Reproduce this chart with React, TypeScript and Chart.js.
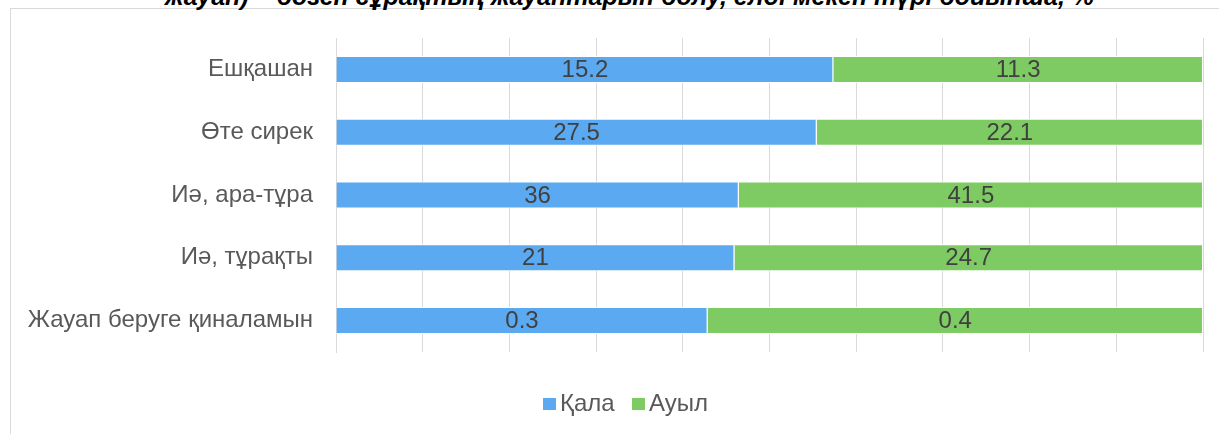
import React, { useEffect, useRef } from 'react';
import { Chart, registerables } from 'chart.js';

Chart.register(...registerables);

const categories = ['Ешқашан', 'Өте сирек', 'Иә, ара-тұра', 'Иә, тұрақты', 'Жауап беруге қиналамын'];
const cityValues = [15.2, 27.5, 36, 21, 0.3];
const villageValues = [11.3, 22.1, 41.5, 24.7, 0.4];
const seriesNames = ['Қала', 'Ауыл'];
const seriesColors = ['#5ba9f1', '#7ecb63'];
const xTicks = [0, 10, 20, 30, 40, 50, 60, 70, 80, 90, 100];
const titleText = 'жауап) – бөзен сұрақтың жауаптарын бөлу, елді мекен түрі бойынша, %';

const FONT = '"Liberation Sans", Arial, sans-serif';

// 100% stacked: each row is shown as share of its own total
const rowTotals = categories.map((_, i) => cityValues[i] + villageValues[i]);
const cityShare = cityValues.map((v, i) => (v / rowTotals[i]) * 100);
const villageShare = villageValues.map((v, i) => (v / rowTotals[i]) * 100);

const segmentLabels = {
  id: 'segmentLabels',
  afterDatasetsDraw(chart: any) {
    const ctx = chart.ctx;
    ctx.save();
    ctx.font = `24px ${FONT}`;
    ctx.fillStyle = '#404040';
    ctx.textAlign = 'center';
    ctx.textBaseline = 'middle';
    chart.data.datasets.forEach((ds: any, di: number) => {
      const meta = chart.getDatasetMeta(di);
      meta.data.forEach((el: any, i: number) => {
        const p = el.getProps(['x', 'y', 'base'], true);
        ctx.fillText(String(ds.rawValues[i]), (p.x + p.base) / 2, p.y + 1);
      });
    });
    ctx.restore();
  },
};

export default function App() {
  const canvasRef = useRef<HTMLCanvasElement | null>(null);

  useEffect(() => {
    const canvas = canvasRef.current;
    if (!canvas) return;
    const chart = new Chart(canvas, {
      type: 'bar',
      data: {
        labels: categories,
        datasets: [
          {
            label: seriesNames[0],
            data: cityShare,
            rawValues: cityValues,
            backgroundColor: seriesColors[0],
            borderColor: '#ffffff',
            borderWidth: 1,
            barPercentage: 0.43,
            categoryPercentage: 1,
          } as any,
          {
            label: seriesNames[1],
            data: villageShare,
            rawValues: villageValues,
            backgroundColor: seriesColors[1],
            borderColor: '#ffffff',
            borderWidth: 1,
            barPercentage: 0.43,
            categoryPercentage: 1,
          } as any,
        ],
      },
      options: {
        indexAxis: 'y',
        responsive: false,
        animation: false,
        layout: { padding: { top: 38, right: 16, bottom: 82, left: 0 } },
        plugins: {
          legend: { display: false },
          title: { display: false },
          tooltip: { enabled: false },
        },
        scales: {
          x: {
            stacked: true,
            min: 0,
            max: 100,
            afterBuildTicks: (scale: any) => {
              scale.ticks = xTicks.map((v) => ({ value: v }));
            },
            afterFit: (scale: any) => {
              scale.height = 0;
            },
            ticks: { display: false },
            grid: { color: '#d9d9d9', lineWidth: 1, drawTicks: false },
            border: { display: false },
          },
          y: {
            stacked: true,
            afterFit: (scale: any) => {
              scale.width = 336;
            },
            ticks: {
              autoSkip: false,
              padding: 23,
              color: '#595959',
              font: { family: FONT, size: 24 },
            },
            grid: { display: false, drawTicks: false },
            border: { display: true, color: '#d9d9d9', width: 1 },
          },
        },
      },
      plugins: [segmentLabels],
    } as any);
    return () => chart.destroy();
  }, []);

  return (
    <div
      style={{
        position: 'fixed',
        left: 0,
        top: 0,
        width: 1219,
        height: 434,
        overflow: 'hidden',
        background: '#ffffff',
        fontFamily: FONT,
      }}
    >
      <div
        style={{
          position: 'absolute',
          left: 10,
          top: 8,
          width: 1240,
          height: 460,
          border: '1px solid #d9d9d9',
          boxSizing: 'border-box',
        }}
      />
      <div
        style={{
          position: 'absolute',
          left: 165,
          top: -16,
          fontSize: 25,
          lineHeight: '25px',
          fontWeight: 'bold',
          fontStyle: 'italic',
          whiteSpace: 'nowrap',
          color: '#000000',
        }}
      >
        {titleText}
      </div>
      <canvas
        ref={canvasRef}
        width={1219}
        height={434}
        style={{ position: 'absolute', left: 0, top: 0, width: 1219, height: 434 }}
      />
      <div style={{ position: 'absolute', left: 543, top: 398, width: 13, height: 12, background: seriesColors[0] }} />
      <div
        style={{
          position: 'absolute',
          left: 560,
          top: 391,
          fontSize: 24,
          lineHeight: '24px',
          color: '#595959',
          whiteSpace: 'nowrap',
        }}
      >
        {seriesNames[0]}
      </div>
      <div style={{ position: 'absolute', left: 632, top: 398, width: 13, height: 12, background: seriesColors[1] }} />
      <div
        style={{
          position: 'absolute',
          left: 649,
          top: 391,
          fontSize: 24,
          lineHeight: '24px',
          color: '#595959',
          whiteSpace: 'nowrap',
        }}
      >
        {seriesNames[1]}
      </div>
    </div>
  );
}
